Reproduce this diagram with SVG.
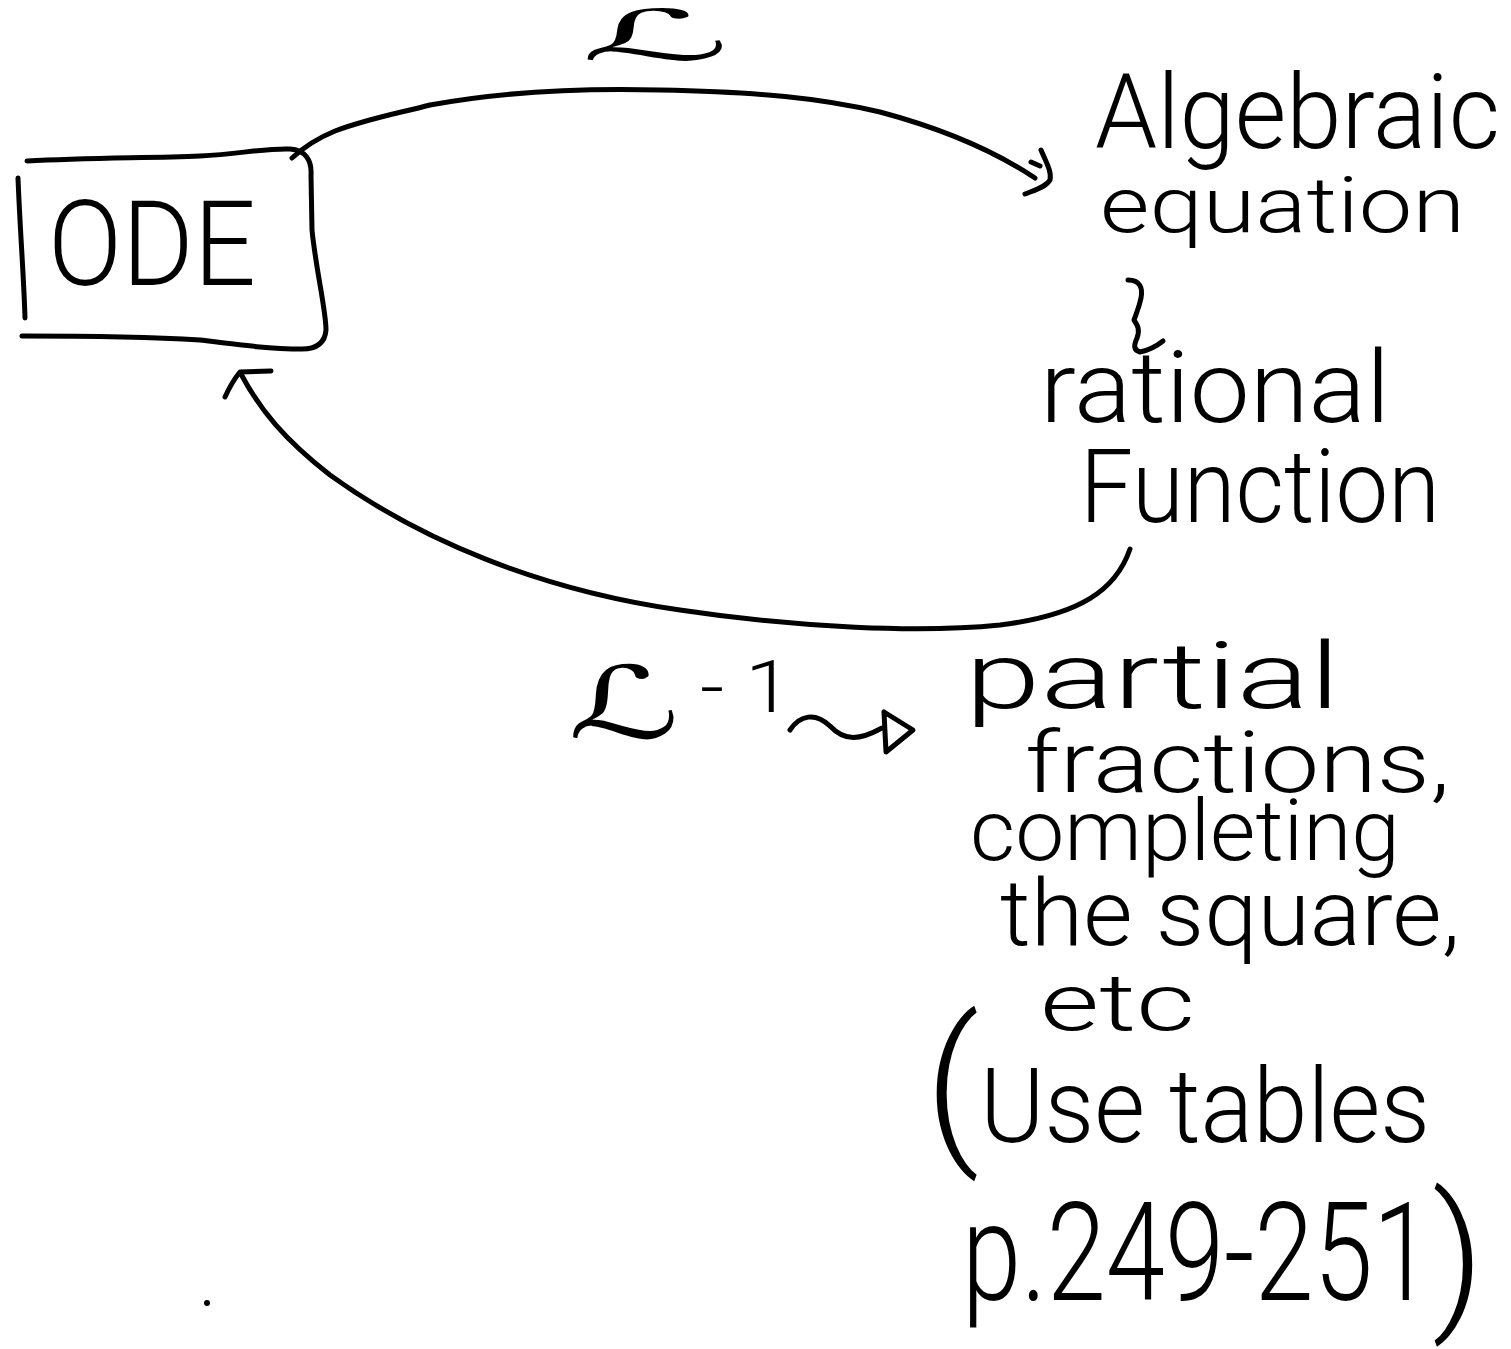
<svg xmlns="http://www.w3.org/2000/svg" width="1511" height="1349" viewBox="0 0 1511 1349">
  <style>
    .ink { fill: none; stroke: #000; stroke-width: 5; stroke-linecap: round; stroke-linejoin: round; }
    .hw { font-family: Roboto, "DejaVu Sans", "Liberation Sans", sans-serif; font-weight: 300; fill: #000; }
    .sym { font-family: "DejaVu Sans", "Liberation Sans", sans-serif; font-weight: normal; fill: #000; }
  </style>
  <rect width="1511" height="1349" fill="#fff"/>

  <!-- ODE node: hand-drawn box -->
  <g id="node-ode">
    <path class="ink" d="M27 161 C90 158 150 158 200 156 C240 154 265 148 290 149 C305 150 312 160 311 175 L312 230 C316 270 326 310 326 330 C325 342 318 349 302 349 C270 349 240 345 200 340 C150 337 80 336 22 336"/>
    <path class="ink" d="M18 178 C20 230 24 280 25 318"/>
    <text class="hw" x="48" y="285" font-size="118" textLength="208" lengthAdjust="spacingAndGlyphs">ODE</text>
  </g>

  <!-- Algebraic equation / rational function node -->
  <g id="node-algebraic">
    <text class="hw" x="1095" y="148" font-size="104" textLength="405" lengthAdjust="spacingAndGlyphs">Algebraic</text>
    <text class="hw" x="1100" y="232" font-size="78" textLength="365" lengthAdjust="spacingAndGlyphs">equation</text>
    <text class="hw" x="1040" y="422" font-size="100" textLength="350" lengthAdjust="spacingAndGlyphs">rational</text>
    <text class="hw" x="1080" y="522" font-size="102" textLength="360" lengthAdjust="spacingAndGlyphs">Function</text>
  </g>

  <!-- Inverse transform methods note -->
  <g id="node-methods">
    <text class="hw" x="965" y="708" font-size="92" textLength="375" lengthAdjust="spacingAndGlyphs">partial</text>
    <text class="hw" x="1025" y="792" font-size="86" textLength="425" lengthAdjust="spacingAndGlyphs">fractions,</text>
    <text class="hw" x="970" y="860" font-size="86" textLength="430" lengthAdjust="spacingAndGlyphs">completing</text>
    <text class="hw" x="1000" y="945" font-size="92" textLength="460" lengthAdjust="spacingAndGlyphs">the square,</text>
    <text class="hw" x="1040" y="1030" font-size="80" textLength="155" lengthAdjust="spacingAndGlyphs">etc</text>
    <text class="hw" x="925" y="1142" font-size="104"><tspan font-size="170">(</tspan><tspan x="980" textLength="450" lengthAdjust="spacingAndGlyphs">Use tables</tspan></text>
    <text class="hw" x="962" y="1300" font-size="138"><tspan textLength="470" lengthAdjust="spacingAndGlyphs">p.249-251</tspan><tspan font-size="160" dy="10">)</tspan></text>
  </g>

  <!-- Transform labels -->
  <g id="label-laplace">
    <text class="sym" x="580" y="60" font-size="70" textLength="150" lengthAdjust="spacingAndGlyphs">ℒ</text>
  </g>
  <g id="label-inverse">
    <text class="sym" x="568" y="738" font-size="100" textLength="112" lengthAdjust="spacingAndGlyphs">ℒ</text>
    <text class="hw" x="700" y="712" font-size="72" textLength="92" lengthAdjust="spacingAndGlyphs">- 1</text>
  </g>

  <!-- stray pen mark -->
  <circle cx="207" cy="1303" r="3" fill="#000"/>

  <!-- Connectors -->
  <g id="connectors">
    <!-- ODE to algebraic equation -->
    <path class="ink" d="M292 158 C305 146 318 138 335 131 C370 118 400 113 430 105 C500 92 580 88 660 90 C760 92 820 98 880 112 C940 128 990 148 1035 178"/>
    <path class="ink" d="M1041 150 C1046 162 1052 172 1050 180 C1046 187 1035 190 1025 194 M1031 162 L1040 166"/>
    <!-- equation to rational function -->
    <path class="ink" d="M1128 280 C1140 280 1143 288 1141 298 C1139 308 1136 314 1134 320 C1138 326 1140 330 1137 338 C1134 345 1133 350 1140 352 C1150 350 1158 345 1163 341"/>
    <!-- rational function back to ODE -->
    <path class="ink" d="M1130 549 C1116 590 1080 615 1000 625 C920 633 800 628 680 610 C540 590 420 540 330 475 C285 440 260 410 241 374"/>
    <path class="ink" d="M225 397 C230 386 235 378 240 372 L271 371"/>
    <!-- squiggle arrow to methods -->
    <path class="ink" d="M790 730 C800 715 815 712 830 726 C845 742 860 740 882 728"/>
    <path class="ink" d="M884 712 L886 752 L913 730 L884 712"/>
  </g>
</svg>
